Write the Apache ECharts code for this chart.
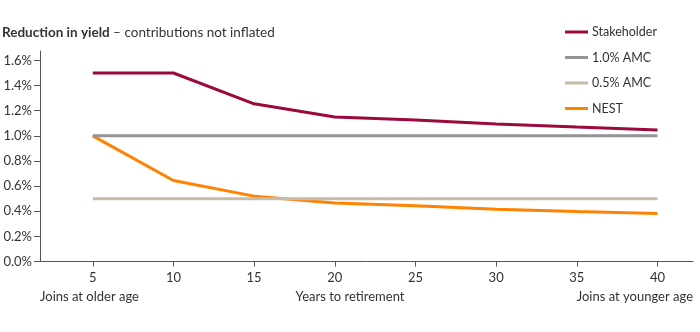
<!DOCTYPE html>
<html>
<head>
<meta charset="utf-8">
<script src="https://cdn.jsdelivr.net/npm/echarts@6/dist/echarts.min.js"></script>
<style>html,body{margin:0;padding:0;background:#fff;}#c{width:700px;height:332px;}</style>
</head>
<body>
<div id="c"></div>
<script>
var years = [5, 10, 15, 20, 25, 30, 35, 40];
var xTicks = [5, 10, 15, 20, 25, 30, 35, 40];
var yTicks = [0, 0.2, 0.4, 0.6, 0.8, 1.0, 1.2, 1.4, 1.6];
var stakeholder = [1.50, 1.50, 1.255, 1.15, 1.125, 1.095, 1.07, 1.047];
var amc10 = [1.0, 1.0, 1.0, 1.0, 1.0, 1.0, 1.0, 1.0];
var amc05 = [0.5, 0.5, 0.5, 0.5, 0.5, 0.5, 0.5, 0.5];
var nest = [1.0, 0.645, 0.52, 0.465, 0.443, 0.415, 0.398, 0.382];
var seriesNames = ['Stakeholder', '1.0% AMC', '0.5% AMC', 'NEST'];
var colors = ['#9a0a3c', '#929497', '#c5bda9', '#ff8200'];

var FONT = 'Lato';
function pairs(vals) { return years.map(function (y, i) { return [y, vals[i]]; }); }
var chart = echarts.init(document.getElementById('c'), null, {renderer: 'canvas'});
var dataSets = [stakeholder, amc10, amc05, nest];
chart.setOption({
  animation: false,
  color: colors,
  textStyle: {fontFamily: FONT},
  grid: {left: 40, right: 7, top: 51, bottom: 70.5, containLabel: false},
  title: {
    text: '{b|Reduction in yield} – contributions not inflated',
    left: 0, top: 26, padding: [0, 2, 0, 2],
    textStyle: {fontFamily: FONT, fontSize: 13.5, fontWeight: 'normal', color: '#333',
      rich: {b: {fontFamily: FONT, fontSize: 13.5, fontWeight: 'bold', color: '#333'}}}
  },
  legend: {
    orient: 'vertical', left: 565, top: 25, padding: 0,
    icon: 'rect', itemWidth: 23, itemHeight: 3, itemGap: 11.5,
    textStyle: {fontFamily: FONT, fontSize: 12.5, color: '#333', padding: [0, 0, 0, -1], lineHeight: 14},
    data: seriesNames
  },
  xAxis: {
    type: 'value', min: 1.73, max: 42.2,
    axisLine: {show: true, lineStyle: {color: '#555', width: 1}},
    axisTick: {show: true, length: 5, lineStyle: {color: '#555'}, customValues: xTicks},
    axisLabel: {customValues: xTicks, margin: 10, fontFamily: FONT, fontSize: 13, color: '#333'},
    splitLine: {show: false}
  },
  yAxis: {
    type: 'value', min: 0, max: 1.675,
    axisLine: {show: true, lineStyle: {color: '#555', width: 1}},
    axisTick: {show: true, length: 6, lineStyle: {color: '#555'}, customValues: yTicks},
    axisLabel: {customValues: yTicks, margin: 8, fontFamily: FONT, fontSize: 13, color: '#333',
      formatter: function (v) { return v.toFixed(1) + '%'; }},
    splitLine: {show: false}
  },
  graphic: [
    {type: 'text', left: 40, top: 290, style: {text: 'Joins at older age', font: '13px ' + FONT, fill: '#333'}},
    {type: 'text', left: 'center', top: 290, x: 7, style: {text: 'Years to retirement', font: '13px ' + FONT, fill: '#333'}},
    {type: 'text', right: 7, top: 290, style: {text: 'Joins at younger age', font: '13px ' + FONT, fill: '#333'}}
  ],
  series: seriesNames.map(function (n, i) {
    return {
      name: n, type: 'line', data: pairs(dataSets[i]), showSymbol: false, symbol: 'none',
      lineStyle: {width: 3, color: colors[i]}, z: 10 - i
    };
  })
});
</script>
</body>
</html>
